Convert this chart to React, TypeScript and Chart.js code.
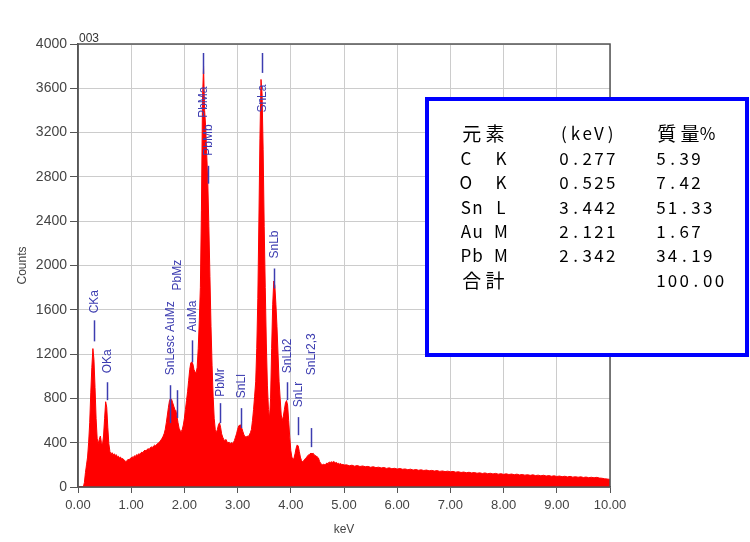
import React, { useEffect, useRef } from 'react';
import { Chart, registerables } from 'chart.js';

Chart.register(...registerables);

// ---- Spectrum data (counts per channel) ----
// 0.00 – 5.00 keV, one value every 0.02 keV
const LOW_STEP = 0.02;
const lowEnergyCounts = [
  0, 0, 0, 0, 0, 0, 40, 130, 200, 270,
  400, 580, 850, 1080, 1250, 1150, 900, 620, 440, 390,
  430, 460, 400, 380, 460, 620, 770, 720, 540, 390,
  320, 300, 310, 290, 300, 285, 292, 272, 278, 262,
  270, 252, 258, 244, 240, 228, 236, 250, 244, 258,
  262, 272, 266, 282, 276, 292, 286, 300, 296, 306,
  316, 310, 326, 332, 324, 340, 346, 338, 356, 362,
  356, 370, 378, 372, 386, 392, 402, 412, 424, 440,
  458, 482, 520, 580, 650, 720, 780, 800, 790, 760,
  730, 700, 690, 640, 580, 530, 510, 500, 520, 560,
  620, 700, 780, 860, 960, 1060, 1120, 1130, 1110, 1060,
  1040, 1030, 1080, 1250, 1500, 1800, 2500, 3500, 3800, 3400,
  3250, 3000, 2750, 2350, 1900, 1450, 1100, 820, 620, 520,
  490, 520, 560, 580, 540, 480, 450, 430, 420, 430,
  410, 400, 405, 390, 400, 395, 400, 420, 450, 480,
  520, 550, 560, 560, 530, 500, 470, 455, 450, 460,
  455, 470, 490, 520, 600, 700, 820, 950, 1250, 1700,
  2400, 3150, 3680, 3550, 3050, 2350, 1800, 1300, 920, 700,
  620, 800, 1250, 1650, 1860, 1820, 1650, 1450, 1200, 950,
  800, 650, 600, 640, 700, 760, 780, 740, 600, 450,
  330, 270, 250, 260, 300, 350, 380, 370, 320, 270,
  240, 230, 235, 250, 260, 270, 285, 290, 300, 305,
  300, 305, 290, 285, 280, 270, 262, 232, 215, 205,
  200, 206, 200, 210, 216, 210, 226, 220, 228, 222,
  230, 225, 218, 222, 210, 215, 205, 212, 200, 205,
  198,
];
// 5.05 – 10.00 keV, one value every 0.05 keV
const TAIL_START = 5.05;
const TAIL_STEP = 0.05;
const tailCounts = [
  200, 192, 197, 188, 194, 185, 190, 183, 186, 178,
  183, 175, 179, 172, 176, 168, 173, 165, 169, 162,
  167, 160, 163, 156, 161, 153, 158, 151, 155, 149,
  153, 146, 150, 144, 148, 141, 145, 139, 143, 137,
  141, 134, 138, 131, 135, 129, 133, 127, 131, 124,
  128, 122, 127, 120, 124, 118, 123, 116, 120, 114,
  119, 113, 117, 111, 116, 109, 113, 107, 111, 105,
  110, 103, 107, 101, 106, 99, 103, 97, 101, 95,
  99, 93, 97, 91, 96, 89, 93, 88, 92, 86,
  90, 84, 88, 83, 87, 81, 79, 74, 72, 68,
];

// ---- Peak identification labels ----
const peakNames = ['CKa', 'OKa', 'SnLesc AuMz', 'PbMz', 'AuMa', 'PbMa', 'PbMb', 'PbMr', 'SnLl', 'SnLa', 'SnLb', 'SnLb2', 'SnLr', 'SnLr2,3'];
const peakKeV = [0.3, 0.545, 1.72, 1.86, 2.15, 2.355, 2.45, 2.67, 3.06, 3.45, 3.68, 3.92, 4.14, 4.38];
const peakLineLow = [1315, 784, 577, 622, 1126, 3730, 2739, 577, 532, 3739, 1793, 784, 468, 360];
const peakLineHigh = [1505, 946, 919, 874, 1324, 3919, 2900, 757, 712, 3919, 1973, 946, 631, 532];
const peakTextBase = [1568, 1027, 1009, 1775, 1400, 3333, 2991, 814, 802, 3381, 2063, 1027, 721, 1009];

// ---- Quantification table ----
const tableHeader = ['元素', '(keV)', '質量%'];
const tableElements = ['C  K', 'O  K', 'Sn L', 'Au M', 'Pb M', '合計'];
const tableEnergies = ['0.277', '0.525', '3.442', '2.121', '2.342', ''];
const tableMass = ['5.39', '7.42', '51.33', '1.67', '34.19', '100.00'];

const chartTitle = '003';
const xTitle = 'keV';
const yTitle = 'Counts';

const PEAK_COLOR = '#3c3cb0';
const AXIS_COLOR = '#555555';
const TEXT_COLOR = '#444444';

function drawMono(ctx: CanvasRenderingContext2D, text: string, x: number, y: number) {
  let cx = x;
  for (const ch of text) {
    const wide = ch.charCodeAt(0) > 0x2e80;
    const w = wide ? 23.4 : 11.7;
    ctx.font = wide ? '19px "Noto Sans CJK JP"' : '17px "Noto Sans CJK JP"';
    if (ch !== ' ') ctx.fillText(ch, cx + w / 2, y);
    cx += w;
  }
}

const overlayPlugin = {
  id: 'overlay',
  afterDatasetsDraw(chart: any) {
    const { ctx, scales } = chart;
    const x = scales.x;
    const y = scales.y;
    ctx.save();
    ctx.strokeStyle = PEAK_COLOR;
    ctx.fillStyle = PEAK_COLOR;
    ctx.lineWidth = 1.5;
    ctx.font = '12px "Liberation Sans"';
    peakNames.forEach((name, i) => {
      const px = Math.round(x.getPixelForValue(peakKeV[i])) + 0.5;
      ctx.beginPath();
      ctx.moveTo(px, y.getPixelForValue(peakLineLow[i]));
      ctx.lineTo(px, y.getPixelForValue(peakLineHigh[i]));
      ctx.stroke();
      ctx.save();
      ctx.translate(px, y.getPixelForValue(peakTextBase[i]));
      ctx.rotate(-Math.PI / 2);
      ctx.textAlign = 'left';
      ctx.textBaseline = 'middle';
      ctx.fillText(name, 0, 0);
      ctx.restore();
    });
    ctx.restore();
  },
  afterDraw(chart: any) {
    const { ctx, chartArea } = chart;
    const { left, right, top, bottom } = chartArea;
    ctx.save();
    // frame
    ctx.strokeStyle = AXIS_COLOR;
    ctx.lineWidth = 1.5;
    ctx.strokeRect(left, top, right - left, bottom - top);

    // titles
    ctx.fillStyle = '#333333';
    ctx.font = '12px "Liberation Sans"';
    ctx.textAlign = 'left';
    ctx.textBaseline = 'alphabetic';
    ctx.fillText(chartTitle, left + 1, top - 2);

    ctx.fillStyle = TEXT_COLOR;
    ctx.textAlign = 'center';
    ctx.textBaseline = 'middle';
    ctx.fillText(xTitle, (left + right) / 2, 530);
    ctx.save();
    ctx.translate(23, (top + bottom) / 2);
    ctx.rotate(-Math.PI / 2);
    ctx.fillText(yTitle, 0, 0);
    ctx.restore();

    // table box
    ctx.fillStyle = '#ffffff';
    ctx.fillRect(427, 99, 320, 256);
    ctx.strokeStyle = '#0000ff';
    ctx.lineWidth = 4;
    ctx.strokeRect(427, 99, 320, 256);

    ctx.fillStyle = '#000000';
    ctx.textAlign = 'center';
    ctx.textBaseline = 'middle';
    const colX = [460, 558, 655];
    const rowY0 = 134;
    const rowGap = 24.4;
    tableHeader.forEach((t, c) => drawMono(ctx, t, colX[c], rowY0));
    tableElements.forEach((el, r) => {
      const ry = rowY0 + rowGap * (r + 1);
      drawMono(ctx, el, colX[0], ry);
      drawMono(ctx, tableEnergies[r], colX[1], ry);
      drawMono(ctx, tableMass[r], colX[2], ry);
    });
    ctx.restore();
  },
};

export default function App() {
  const ref = useRef<HTMLCanvasElement>(null);
  useEffect(() => {
    const points = [
      ...lowEnergyCounts.map((c, i) => ({ x: +(i * LOW_STEP).toFixed(2), y: c })),
      ...tailCounts.map((c, i) => ({ x: +(TAIL_START + i * TAIL_STEP).toFixed(2), y: c })),
    ];
    const chart = new Chart(ref.current as HTMLCanvasElement, {
      type: 'line',
      data: {
        datasets: [
          {
            data: points,
            borderColor: '#ff0000',
            backgroundColor: '#ff0000',
            borderWidth: 1,
            pointRadius: 0,
            fill: 'origin',
            tension: 0,
          },
        ],
      },
      options: {
        responsive: false,
        maintainAspectRatio: false,
        devicePixelRatio: 1,
        animation: false,
        layout: { padding: { top: 44, right: 140, left: 0, bottom: 0 } },
        plugins: { legend: { display: false }, tooltip: { enabled: false } },
        scales: {
          x: {
            type: 'linear',
            min: 0,
            max: 10,
            afterFit: (s: any) => { s.height = 55; },
            grid: { color: '#cccccc', lineWidth: 1, tickColor: AXIS_COLOR, tickLength: 6 },
            border: { color: AXIS_COLOR, width: 1.5 },
            ticks: {
              stepSize: 1,
              autoSkip: false,
              maxRotation: 0,
              padding: 5,
              color: TEXT_COLOR,
              font: { family: '"Liberation Sans"', size: 13 },
              callback: (v: any) => Number(v).toFixed(2),
            },
          },
          y: {
            min: 0,
            max: 4000,
            afterFit: (s: any) => { s.width = 78; },
            grid: { color: '#cccccc', lineWidth: 1, tickColor: AXIS_COLOR, tickLength: 8 },
            border: { color: AXIS_COLOR, width: 1.5 },
            ticks: {
              stepSize: 400,
              autoSkip: false,
              padding: 3,
              color: TEXT_COLOR,
              font: { family: '"Liberation Sans"', size: 14 },
              callback: (v: any) => String(v),
            },
          },
        },
      },
      plugins: [overlayPlugin],
    });
    return () => chart.destroy();
  }, []);
  return (
    <canvas
      ref={ref}
      width={750}
      height={542}
      style={{ position: 'fixed', left: 0, top: 0, width: 750, height: 542 }}
    />
  );
}
